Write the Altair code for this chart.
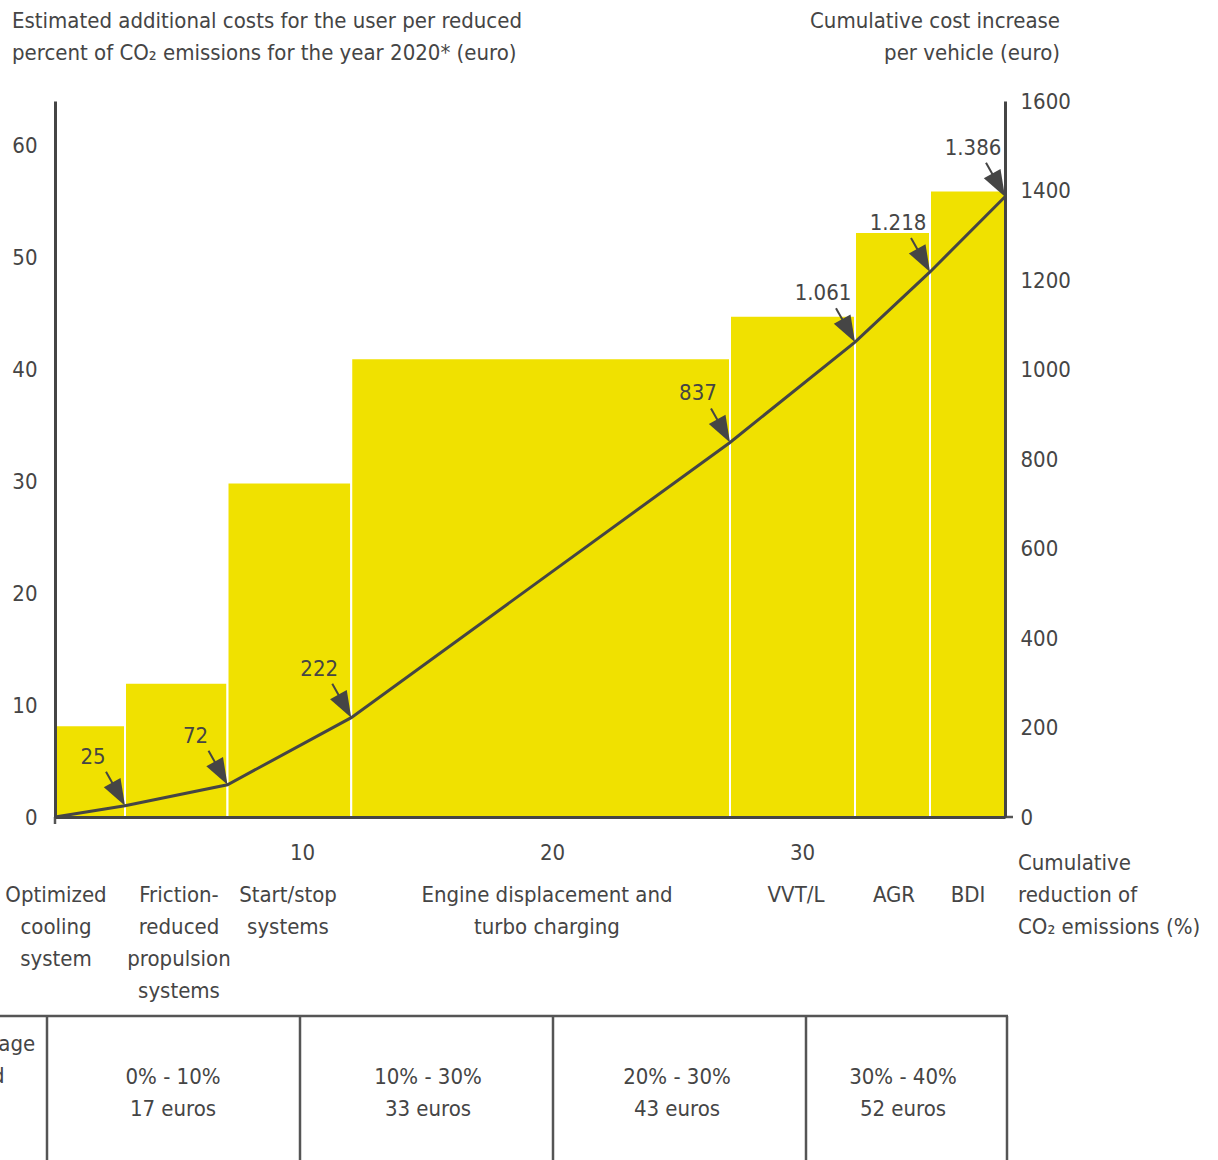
import altair as alt
import pandas as pd

# ---------------- data ----------------
reduction_edges = [0, 2.8, 6.9, 11.85, 27, 32, 35, 38]          # cumulative CO2 reduction (%)
cost_per_percent = [8.2, 12.0, 29.9, 41.0, 44.8, 52.3, 56.0]   # euro per reduced percent
cumulative_cost = [0, 25, 72, 222, 837, 1061, 1218, 1386]       # euro per vehicle
cost_labels = ["25", "72", "222", "837", "1.061", "1.218", "1.386"]
measures = [
    ["Optimized", "cooling", "system"],
    ["Friction-", "reduced", "propulsion", "systems"],
    ["Start/stop", "systems"],
    ["Engine displacement and", "turbo charging"],
    ["VVT/L"],
    ["AGR"],
    ["BDI"],
]
x_ticks = [10, 20, 30]
left_ticks = [0, 10, 20, 30, 40, 50, 60]
right_ticks = [0, 200, 400, 600, 800, 1000, 1200, 1400, 1600]
table_ranges = ["0% - 10%", "10% - 30%", "20% - 30%", "30% - 40%"]
table_costs = ["17 euros", "33 euros", "43 euros", "52 euros"]
table_header = ["Percentage", "reduced"]

# ---------------- style / layout ----------------
FONT = "'Liberation Sans Narrow', 'DejaVu Sans Condensed', 'Roboto', sans-serif"
FS = 22
DARK = "#454545"
YELLOW = "#F0E100"
W, H = 950, 716
measure_x = [1, 124, 233, 492, 741, 839, 913]
table_cols = [-8, 245, 498, 751, 952]
table_text_x = [118, 373, 622, 848]
TRI = "M0,0L-0.36,1L0.36,1Z"

bars_df = pd.DataFrame({
    "start": reduction_edges[:-1],
    "end": reduction_edges[1:],
    "value": cost_per_percent,
})
line_df = pd.DataFrame({"red": reduction_edges, "cost": cumulative_cost})
ann_df = pd.DataFrame({
    "red": reduction_edges[1:],
    "cost": cumulative_cost[1:],
    "label": cost_labels,
})
dummy = pd.DataFrame({"a": [0]})

xscale = alt.Scale(domain=[0, 38], nice=False, zero=False)
xaxis = alt.Axis(values=x_ticks, title=None, tickSize=0, labelPadding=25, labelOffset=-3,
                 domainWidth=3, domainColor=DARK, labelFont=FONT, labelFontSize=FS,
                 labelColor=DARK, grid=False, zindex=1)

bars = alt.Chart(bars_df).mark_rect(color=YELLOW, stroke="white", strokeWidth=2).encode(
    x=alt.X("start:Q", scale=xscale, axis=xaxis),
    x2="end:Q",
    y=alt.Y("value:Q", scale=alt.Scale(domain=[0, 64], nice=False),
            axis=alt.Axis(orient="left", values=left_ticks, title=None, tickSize=0,
                          labelPadding=18, domainWidth=3, domainColor=DARK,
                          labelFont=FONT, labelFontSize=FS, labelColor=DARK,
                          grid=False, zindex=1)),
    y2=alt.datum(0),
)

yc = alt.Y("cost:Q", scale=alt.Scale(domain=[0, 1600], nice=False),
           axis=alt.Axis(orient="right", values=right_ticks, title=None, tickSize=0,
                         format="d", labelPadding=15, domainWidth=3, domainColor=DARK,
                         labelFont=FONT, labelFontSize=FS, labelColor=DARK,
                         grid=False, zindex=1))
xc = alt.X("red:Q", scale=xscale, axis=xaxis)

line = alt.Chart(line_df).mark_line(color=DARK, strokeWidth=3).encode(x=xc, y=yc)
arrows = alt.Chart(ann_df).mark_rule(color=DARK, strokeWidth=2, xOffset=-19, yOffset=-34,
                                     x2Offset=-6, y2Offset=-11).encode(
    x=xc, x2="red:Q", y=yc, y2="cost:Q")
heads = alt.Chart(ann_df).mark_point(shape=TRI, size=2800, filled=True, color=DARK,
                                     opacity=1, angle=151, strokeWidth=0).encode(x=xc, y=yc)
labels = alt.Chart(ann_df).mark_text(dx=-32, dy=-49, font=FONT, fontSize=FS, color=DARK).encode(
    x=xc, y=yc, text="label:N")
line_group = alt.layer(line, arrows, heads, labels)


def note(lines, x, y, align="left"):
    return alt.Chart(dummy).mark_text(text=lines, align=align, baseline="alphabetic",
                                      lineHeight=32, font=FONT, fontSize=FS, color=DARK).encode(
        x=alt.value(x), y=alt.value(y))


def rule(x1, x2, y1, y2):
    return alt.Chart(dummy).mark_rule(color="#555555", strokeWidth=2.5).encode(
        x=alt.value(x1), x2=alt.value(x2), y=alt.value(y1), y2=alt.value(y2))


notes = [
    note(["Estimated additional costs for the user per reduced",
          "percent of CO\u2082 emissions for the year 2020* (euro)"], -43, -73),
    note(["Cumulative cost increase", "per vehicle (euro)"], 1005, -73, "right"),
    note(["Cumulative", "reduction of", "CO\u2082 emissions (%)"], 963, 769),
    note(table_header, -131, 950),
]
for lines, x in zip(measures, measure_x):
    notes.append(note(lines, x, 801, "center"))
for r, c, x in zip(table_ranges, table_costs, table_text_x):
    notes.append(note([r, c], x, 983, "center"))

rules = [rule(-55, 953, 915, 915)]
for cx in table_cols:
    rules.append(rule(cx, cx, 915, 1062))
rules.append(rule(0, 0, 716, 723))      # small tick at x origin
rules.append(rule(950, 958, 716, 716))  # small tick at right-axis zero

chart = alt.layer(bars, line_group, *notes, *rules).resolve_scale(y="independent").properties(
    width=W, height=H,
    autosize=alt.AutoSizeParams(type="none"),
    padding={"left": 55, "top": 101, "right": 213, "bottom": 343},
).configure_view(stroke=None)

chart.save("out.html", embed_options={"renderer": "svg", "actions": False})
